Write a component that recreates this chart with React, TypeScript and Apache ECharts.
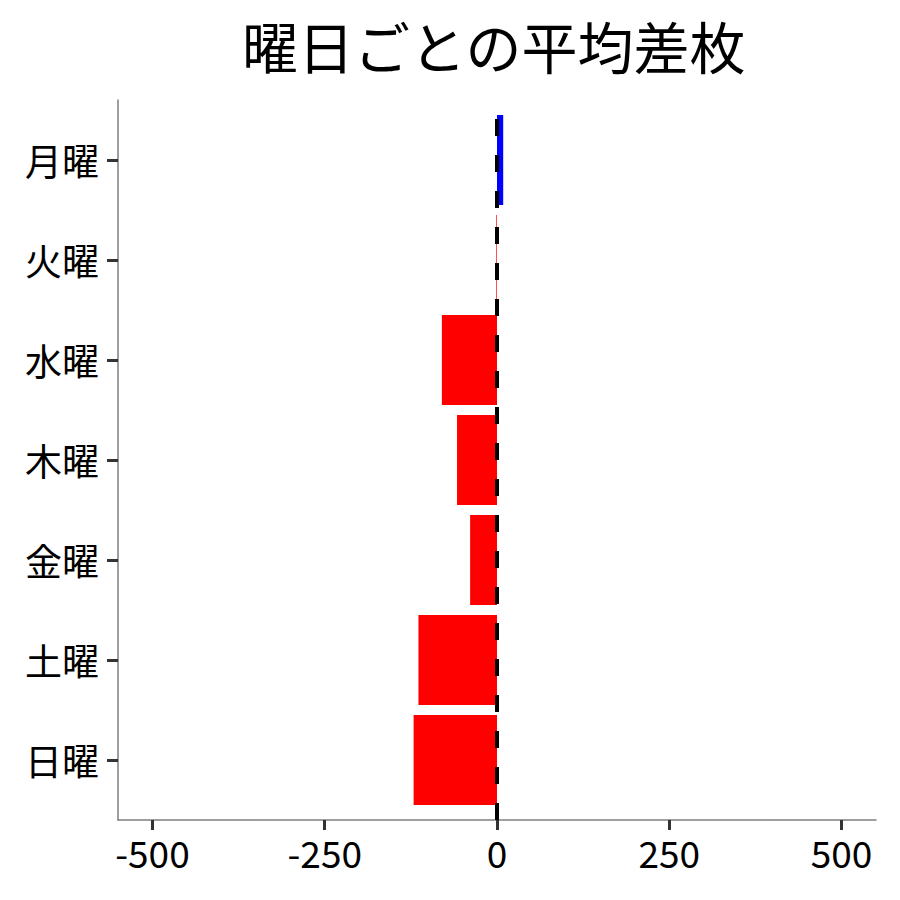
import { useRef, useEffect } from 'react'
import * as echarts from 'echarts'

const days = ['月曜', '火曜', '水曜', '木曜', '金曜', '土曜', '日曜']
const avgDiff = [9, -1, -80, -58, -39, -114, -121]
const xTicks = [-500, -250, 0, 250, 500]
const xMin = -550
const xMax = 550

const font = '"Noto Sans CJK JP", "Noto Sans", sans-serif'

export default function App() {
  const chartRef = useRef<HTMLDivElement>(null)

  useEffect(() => {
    document.body.style.margin = '0'
    if (!chartRef.current) return
    const chart = echarts.init(chartRef.current, undefined, { renderer: 'svg' })

    const option = {
      animation: false,
      backgroundColor: '#ffffff',
      textStyle: { fontFamily: font },
      title: {
        text: '曜日ごとの平均差枚',
        left: 237,
        top: 11,
        textStyle: { fontFamily: font, fontSize: 56, fontWeight: 'normal', color: '#000000' },
      },
      grid: [
        { left: 118, right: 24, top: 100, bottom: 80 },
        { left: 118, right: 24, top: 110, bottom: 90 },
      ],
      xAxis: [
        {
          type: 'value',
          gridIndex: 0,
          min: xMin,
          max: xMax,
          splitLine: { show: false },
          axisLine: { show: true, onZero: false, lineStyle: { color: '#7f7f7f', width: 1.5 } },
          axisTick: { show: true, customValues: xTicks, length: 10, lineStyle: { color: '#333333', width: 3 } },
          axisLabel: {
            customValues: xTicks,
            margin: 13,
            fontSize: 37,
            color: '#000000',
            fontFamily: font,
          },
        },
        {
          type: 'value',
          gridIndex: 1,
          min: xMin,
          max: xMax,
          show: false,
        },
      ],
      yAxis: [
        {
          type: 'value',
          gridIndex: 0,
          min: 0,
          max: 1,
          splitLine: { show: false },
          axisLine: { show: true, onZero: false, lineStyle: { color: '#7f7f7f', width: 1.5 } },
          axisTick: { show: false },
          axisLabel: { show: false },
        },
        {
          type: 'category',
          gridIndex: 1,
          data: days,
          inverse: true,
          axisLine: { show: false, onZero: false },
          axisTick: { show: true, alignWithLabel: true, length: 11, lineStyle: { color: '#333333', width: 3 } },
          axisLabel: { margin: 19, fontSize: 37, color: '#000000', fontFamily: font },
          splitLine: { show: false },
        },
      ],
      series: [
        {
          type: 'line',
          xAxisIndex: 0,
          yAxisIndex: 0,
          data: [],
          silent: true,
          markLine: {
            symbol: 'none',
            silent: true,
            label: { show: false },
            lineStyle: { color: '#000000', width: 4, type: [17, 19] },
            data: [{ xAxis: 0 }],
          },
        },
        {
          type: 'bar',
          xAxisIndex: 1,
          yAxisIndex: 1,
          barWidth: '90%',
          z: 1,
          data: avgDiff.map((v) => ({
            value: v,
            itemStyle: { color: v >= 0 ? '#0000ff' : '#ff0000' },
          })),
        },
      ],
    }

    chart.setOption(option)
    return () => chart.dispose()
  }, [])

  return <div ref={chartRef} style={{ width: 900, height: 900 }} />
}
